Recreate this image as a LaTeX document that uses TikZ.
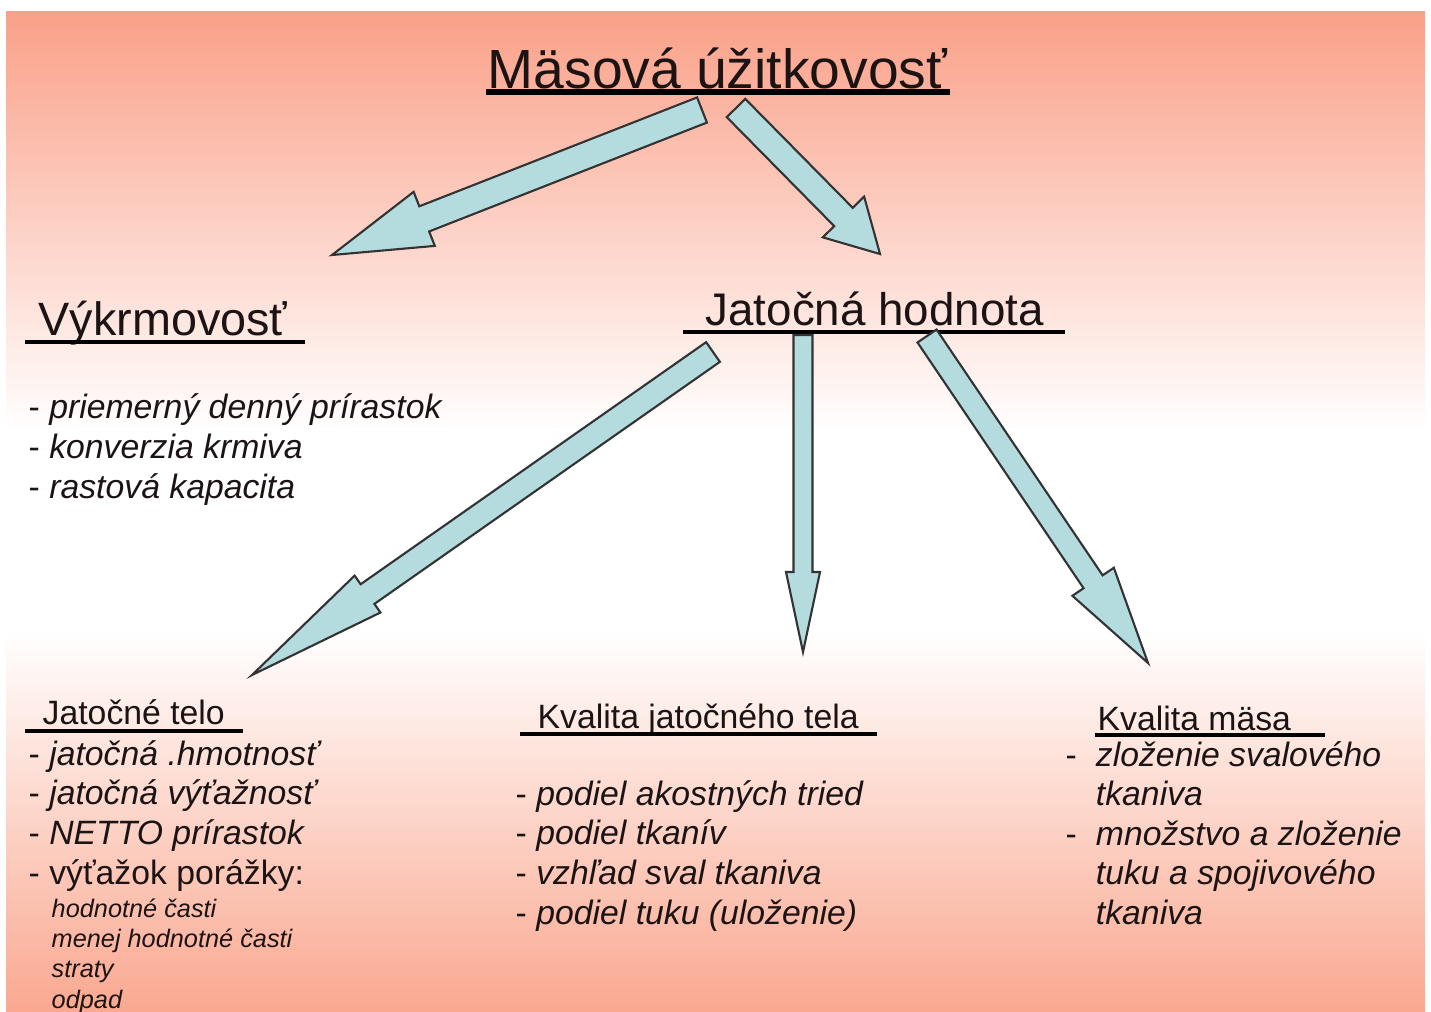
\documentclass[tikz,border=0pt]{standalone}
\usepackage{fontspec}
\setmainfont{Liberation Sans}
\usetikzlibrary{calc}
\definecolor{salmontop}{HTML}{FAA088}
\definecolor{salmonbot}{HTML}{FAA890}
\definecolor{arrowcyan}{HTML}{B4DCDF}
\definecolor{inkdark}{HTML}{1C1414}
\pgfdeclareverticalshading{slideshade}{100bp}{color(0bp)=(salmonbot); color(25bp)=(salmonbot);
  color(44bp)=(white); color(54bp)=(white); color(75bp)=(salmontop); color(100bp)=(salmontop)}
% block arrow: tail, tip, half shaft width, half head width, head length
\newcommand{\fatarrow}[5]{%
  \coordinate (neck) at ($(#2)!#5!(#1)$);
  \draw[blockarrow] ($(#1)!#3!90:(#2)$) -- ($(neck)!#3!-90:(#1)$) -- ($(neck)!#4!-90:(#1)$)
    -- (#2) -- ($(neck)!#4!90:(#1)$) -- ($(neck)!#3!90:(#1)$) -- ($(#1)!#3!-90:(#2)$) -- cycle;}

\begin{document}
\begin{tikzpicture}[x=0.01cm, y=-0.01cm,
    hdr/.style={anchor=base west, inner sep=0pt, text=inkdark},
    lst/.style={anchor=base west, inner sep=0pt, align=left, text=inkdark,
                font=\fontsize{9.6}{11.24}\selectfont},
    uline/.style={line width=0.9pt},
    blockarrow/.style={draw=black!80, fill=arrowcyan, line width=0.6pt, line join=miter},
]
    \useasboundingbox (0,0) rectangle (1431,1011);
    \fill[white] (0,0) rectangle (1431,1011);
    \shade[shading=slideshade] (6,11) rectangle (1425,1011);

    % headings
    \node[hdr, font=\fontsize{15.7}{18}\selectfont] (title) at (487,88) {Mäsová úžitkovosť};
    \draw[uline, line width=1.5pt] ($(title.base west)+(-1,4)$) -- ($(title.base east)+(2,4)$);

    \node[hdr, font=\fontsize{13.3}{16}\selectfont] (vykrm) at (38,335) {Výkrmovosť};
    \draw[uline] ($(vykrm.base west)+(-13,7)$) -- ($(vykrm.base east)+(17,7)$);

    \node[hdr, font=\fontsize{13}{16}\selectfont] (jhod) at (705,325) {Jatočná hodnota};
    \draw[uline] ($(jhod.base west)+(-22,7)$) -- ($(jhod.base east)+(20,7)$);

    \node[hdr, font=\fontsize{9.6}{11.24}\selectfont] (jtelo) at (42,724) {Jatočné telo};
    \draw[uline] ($(jtelo.base west)+(-17,7)$) -- ($(jtelo.base east)+(18,7)$);

    \node[hdr, font=\fontsize{9.6}{11.24}\selectfont] (kjt) at (537,728) {Kvalita jatočného tela};
    \draw[uline] ($(kjt.base west)+(-17,6)$) -- ($(kjt.base east)+(18,6)$);

    \node[hdr, font=\fontsize{9.6}{11.24}\selectfont] (kmasa) at (1097,730) {Kvalita mäsa};
    \draw[uline] ($(kmasa.base west)+(-2,5)$) -- ($(kmasa.base east)+(33,5)$);

    % lists (placed by the baseline of their last line)
    \node[lst] (vykrmlist) at (28,498) {
        - \textit{priemerný denný prírastok}\\
        - \textit{konverzia krmiva}\\
        - \textit{rastová kapacita}};

    \node[lst] (telolist) at (28,884) {
        - \textit{jatočná .hmotnosť}\\
        - \textit{jatočná výťažnosť}\\
        - \textit{NETTO prírastok}\\
        - výťažok porážky:};
    \node[lst, font=\fontsize{7.2}{8.6}\selectfont\itshape] (porazka) at (51,1008) {
        hodnotné časti\\
        menej hodnotné časti\\
        straty\\
        odpad};

    \node[lst] (kjtlist) at (515,924) {
        - \textit{podiel akostných tried}\\
        - \textit{podiel tkanív}\\
        - \textit{vzhľad sval tkaniva}\\
        - \textit{podiel tuku (uloženie)}};

    \node[lst] (masalist) at (1065,766) {%
        \begin{tabular}[t]{@{}l@{\hspace{5.4pt}}l@{}}
        - & \textit{zloženie svalového}\\
          & \textit{tkaniva}\\
        - & \textit{množstvo a zloženie}\\
          & \textit{tuku a spojivového}\\
          & \textit{tkaniva}
        \end{tabular}};

    % arrows
    \coordinate (t1) at (702,110);   \coordinate (h1) at (332,255);
    \coordinate (t2) at (736,108);   \coordinate (h2) at (880,254);
    \coordinate (t3) at (713,352);   \coordinate (h3) at (252,675);
    \coordinate (t4) at (803,335);   \coordinate (h4) at (803,652);
    \coordinate (t5) at (927,336);   \coordinate (h5) at (1148,663);
    \fatarrow{t1}{h1}{0.135cm}{0.29cm}{0.99cm}
    \fatarrow{t2}{h2}{0.13cm}{0.29cm}{0.52cm}
    \fatarrow{t3}{h3}{0.12cm}{0.225cm}{1.41cm}
    \fatarrow{t4}{h4}{0.095cm}{0.17cm}{0.80cm}
    \fatarrow{t5}{h5}{0.115cm}{0.25cm}{0.98cm}
\end{tikzpicture}
\end{document}
